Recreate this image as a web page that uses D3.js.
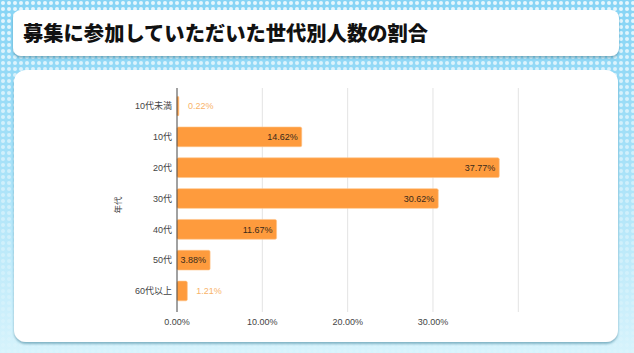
<!DOCTYPE html>
<html>
<head>
<meta charset="utf-8">
<script src="https://cdn.jsdelivr.net/npm/d3@7"></script>
<style>
  html, body { margin: 0; padding: 0; background: #fff; }
  svg { display: block; }
  text { font-family: "Liberation Sans", "Noto Sans CJK JP", sans-serif; }
  text.title { font-family: "Noto Sans CJK JP", sans-serif; }
</style>
</head>
<body>
<div id="chart"></div>
<script>
// 年代別の割合 (%)
var categories = ["10代未満", "10代", "20代", "30代", "40代", "50代", "60代以上"];
var values = [0.22, 14.62, 37.77, 30.62, 11.67, 3.88, 1.21];
var gridTicks = [0, 10, 20, 30, 40];
var tickLabels = ["0.00%", "10.00%", "20.00%", "30.00%"];
var title = "募集に参加していただいた世代別人数の割合";
var axisTitle = "年代";

var W = 634, H = 353;

var svg = d3.select("#chart").append("svg")
    .attr("width", W)
    .attr("height", H);

var defs = svg.append("defs");

// 背景のグラデーション
var bgGrad = defs.append("linearGradient")
    .attr("id", "bgGrad")
    .attr("x1", 0).attr("y1", 0).attr("x2", 0).attr("y2", 1);
bgGrad.append("stop").attr("offset", "0%").attr("stop-color", "#86d4f5");
bgGrad.append("stop").attr("offset", "45%").attr("stop-color", "#a6e1f8");
bgGrad.append("stop").attr("offset", "100%").attr("stop-color", "#d6f3fc");

// ドット模様
var dots = defs.append("pattern")
    .attr("id", "dots")
    .attr("width", 6).attr("height", 6)
    .attr("patternUnits", "userSpaceOnUse");
dots.append("circle").attr("cx", 3).attr("cy", 3).attr("r", 2).attr("fill", "#ffffff");

var fadeGrad = defs.append("linearGradient")
    .attr("id", "fadeGrad")
    .attr("x1", 0).attr("y1", 0).attr("x2", 0).attr("y2", 1);
fadeGrad.append("stop").attr("offset", "0%").attr("stop-color", "#fff").attr("stop-opacity", 0.8);
fadeGrad.append("stop").attr("offset", "100%").attr("stop-color", "#fff").attr("stop-opacity", 0.1);
defs.append("mask").attr("id", "fadeMask")
    .append("rect").attr("width", W).attr("height", H).attr("fill", "url(#fadeGrad)");

var shadow = defs.append("filter").attr("id", "shadow")
    .attr("x", "-5%").attr("y", "-10%").attr("width", "110%").attr("height", "130%");
shadow.append("feDropShadow")
    .attr("dx", 0).attr("dy", 2).attr("stdDeviation", 1.2)
    .attr("flood-color", "#3a7f99").attr("flood-opacity", 0.55);

svg.append("rect").attr("width", W).attr("height", H).attr("fill", "url(#bgGrad)");
svg.append("rect").attr("width", W).attr("height", H)
    .attr("fill", "url(#dots)").attr("mask", "url(#fadeMask)");

// タイトルの箱
svg.append("rect")
    .attr("x", 13).attr("y", 10).attr("width", 606).attr("height", 46)
    .attr("rx", 8).attr("fill", "#fff").attr("filter", "url(#shadow)");
svg.append("text")
    .attr("class", "title")
    .attr("x", 23).attr("y", 41)
    .attr("font-size", 20.3).attr("font-weight", 900).attr("fill", "#111")
    .text(title);

// グラフの箱
svg.append("rect")
    .attr("x", 14).attr("y", 70).attr("width", 604).attr("height", 272)
    .attr("rx", 12).attr("fill", "#fff").attr("filter", "url(#shadow)");

var x = d3.scaleLinear().domain([0, 40]).range([177, 518.3]);
var y = d3.scaleBand()
    .domain(categories)
    .range([90.6, 306.4])
    .paddingInner(0.36)
    .paddingOuter(0.18);

var plotTop = 88, plotBottom = 312;

// 縦のグリッド線
svg.append("g").selectAll("line")
    .data(gridTicks.slice(1))
    .enter().append("line")
    .attr("x1", function(d) { return x(d); })
    .attr("x2", function(d) { return x(d); })
    .attr("y1", plotTop).attr("y2", plotBottom)
    .attr("stroke", "#e3e3e3").attr("stroke-width", 1);

// x軸のラベル
svg.append("g").selectAll("text")
    .data(tickLabels)
    .enter().append("text")
    .attr("x", function(d, i) { return x(gridTicks[i]); })
    .attr("y", 325)
    .attr("text-anchor", "middle")
    .attr("font-size", 9).attr("fill", "#444")
    .text(function(d) { return d; });

var data = categories.map(function(c, i) { return { name: c, value: values[i] }; });

// 棒
svg.append("g").selectAll("rect")
    .data(data)
    .enter().append("rect")
    .attr("x", x(0))
    .attr("y", function(d) { return y(d.name); })
    .attr("width", function(d) { return Math.max(1.5, x(d.value) - x(0)); })
    .attr("height", y.bandwidth())
    .attr("rx", 1.5)
    .attr("fill", "#fe9b3d")
    .attr("stroke", "#ffc58a").attr("stroke-width", 0.6);

// 値ラベル
svg.append("g").selectAll("text")
    .data(data)
    .enter().append("text")
    .attr("x", function(d) {
        return d.value >= 3 ? x(d.value) - 4 : x(d.value) + 9;
    })
    .attr("y", function(d) { return y(d.name) + y.bandwidth() / 2 + 3.2; })
    .attr("text-anchor", function(d) { return d.value >= 3 ? "end" : "start"; })
    .attr("font-size", 9)
    .attr("fill", function(d) { return d.value >= 3 ? "#3a2a1a" : "#f8b36a"; })
    .text(function(d) { return d.value.toFixed(2) + "%"; });

// y軸
svg.append("line")
    .attr("x1", x(0)).attr("x2", x(0))
    .attr("y1", plotTop).attr("y2", plotBottom)
    .attr("stroke", "#444").attr("stroke-width", 1);

svg.append("g").selectAll("text")
    .data(categories)
    .enter().append("text")
    .attr("x", 172)
    .attr("y", function(d) { return y(d) + y.bandwidth() / 2 + 3.2; })
    .attr("text-anchor", "end")
    .attr("font-size", 9).attr("fill", "#444")
    .text(function(d) { return d; });

svg.append("text")
    .attr("transform", "translate(121,205) rotate(-90)")
    .attr("text-anchor", "middle")
    .attr("font-size", 8.5).attr("fill", "#444")
    .text(axisTitle);
</script>
</body>
</html>
